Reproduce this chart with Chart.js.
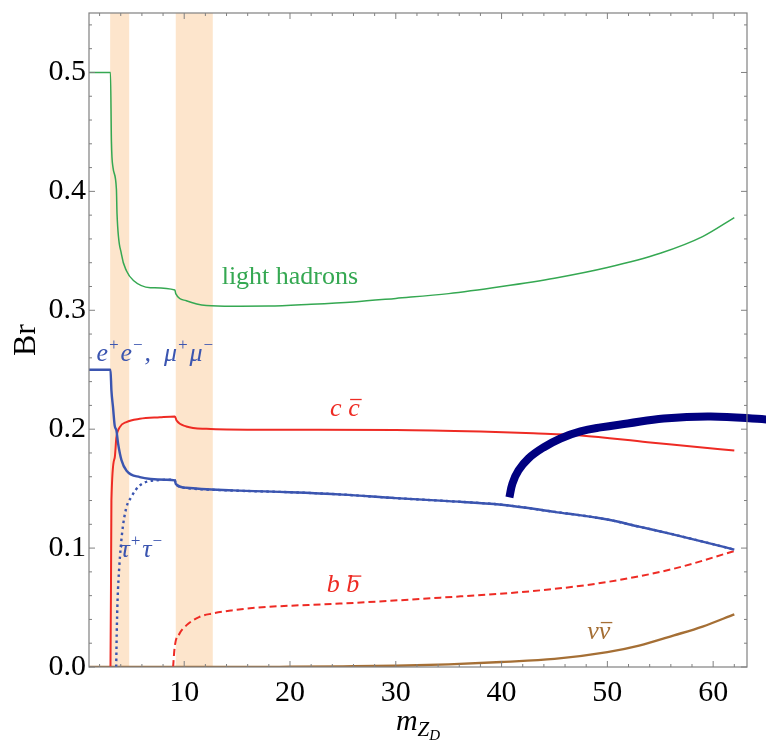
<!DOCTYPE html>
<html>
<head>
<meta charset="utf-8">
<title>Z_D branching ratios</title>
<script src="https://cdn.jsdelivr.net/npm/chart.js@4.4.1/dist/chart.umd.min.js"></script>
<style>
  html, body { margin: 0; padding: 0; background: #fff; }
  #wrap { width: 766px; height: 751px; }
</style>
</head>
<body>
<div id="wrap"><canvas id="brChart" width="766" height="751"></canvas></div>
<script>
// branching ratios of Z_D vs its mass (GeV)
const hadronX = [1, 3.03, 3.12, 3.27, 3.59, 3.65, 4.07, 4.55, 5.2, 6.8, 9.12, 9.2, 10.2, 12.1, 14.6, 18, 22, 26, 30, 35, 40, 45, 50, 55, 59, 62];
const hadronY = [0.5, 0.5, 0.442, 0.42, 0.402, 0.381, 0.347, 0.333, 0.325, 0.319, 0.317, 0.314, 0.308, 0.304, 0.3034, 0.3035, 0.305, 0.307, 0.31, 0.314, 0.32, 0.327, 0.336, 0.348, 0.362, 0.378];

const muX = [1, 3.03, 3.12, 3.27, 3.43, 3.59, 3.75, 4.07, 4.55, 5.8, 8.3, 9.12, 9.2, 10.2, 14.6, 20, 25, 30, 35, 40, 45, 50, 53, 56, 59, 62];
const muY = [0.25, 0.25, 0.2326, 0.2185, 0.203, 0.199, 0.188, 0.174, 0.165, 0.1597, 0.1575, 0.157, 0.154, 0.1507, 0.1485, 0.147, 0.145, 0.142, 0.1395, 0.1365, 0.1305, 0.124, 0.118, 0.112, 0.1055, 0.0987];

const tauX = [3.57, 3.62, 3.7, 3.86, 4.12, 4.5, 5.0, 5.8, 7.4, 9.0, 9.12, 9.2, 10.2, 14.6, 20, 25, 30, 35, 40, 45, 50, 53, 56, 59, 62];
const tauY = [0, 0.028, 0.056, 0.084, 0.112, 0.133, 0.143, 0.1527, 0.157, 0.1575, 0.157, 0.154, 0.1505, 0.1484, 0.147, 0.145, 0.142, 0.1395, 0.1365, 0.1305, 0.124, 0.118, 0.112, 0.1055, 0.0987];

const ccX = [3.03, 3.08, 3.12, 3.43, 3.59, 3.91, 4.54, 5.8, 7.7, 9.12, 9.28, 10.2, 12.1, 17.2, 30, 38, 43, 47.5, 53.8, 58, 62];
const ccY = [0, 0.07, 0.14, 0.176, 0.193, 0.2017, 0.206, 0.2087, 0.21, 0.2107, 0.2073, 0.2023, 0.2003, 0.1995, 0.1993, 0.198, 0.1965, 0.1947, 0.189, 0.1855, 0.182];

const bbX = [8.95, 9.1, 9.55, 10.2, 11.4, 12.6, 14.5, 17, 24.7, 34.2, 43.7, 50, 56.3, 62];
const bbY = [0, 0.0168, 0.028, 0.035, 0.042, 0.0449, 0.0476, 0.05, 0.0533, 0.0583, 0.0645, 0.0715, 0.0827, 0.0975];

const nuX = [1, 15, 20, 25, 30, 35, 40, 45, 50, 53, 56.3, 59, 62];
const nuY = [0, 0, 0.0002, 0.0005, 0.001, 0.0022, 0.0042, 0.0068, 0.0125, 0.018, 0.0266, 0.034, 0.0443];

// thick arc running off the right edge
const arcX = [40.74, 41.03, 41.6, 42.54, 43.96, 45.57, 47.46, 49.36, 51.92, 55.33, 59.78, 65.08];
const arcY = [0.1426, 0.1544, 0.1653, 0.1754, 0.1846, 0.1922, 0.1981, 0.2015, 0.2048, 0.209, 0.2107, 0.2082];

// resonance regions
const bandFrom = [3.0, 9.2];
const bandTo = [4.8, 12.7];

const xTicks = [10, 20, 30, 40, 50, 60];
const yTicks = [0, 0.1, 0.2, 0.3, 0.4, 0.5];

const GREEN = '#35a852';
const BLUE = '#3b55b0';
const RED = '#ee2b24';
const BROWN = '#a56f35';
const NAVY = '#000080';
const BAND = '#fde5cc';
const SERIF = '"Liberation Serif", "Times New Roman", serif';

const pts = (xs, ys) => xs.map((x, i) => ({ x: x, y: ys[i] }));

// curve labels: [text, 'sup' | 'bar']
const curveLabels = [
  { x: 13.54, y: 0.3224, color: GREEN, italic: false, parts: [['light hadrons']] },
  { x: 1.70, y: 0.2577, color: BLUE, italic: true, parts: [['e'], ['+', 'sup'], ['e'], ['\u2212', 'sup'], [',  \u03bc'], ['+', 'sup'], ['\u03bc'], ['\u2212', 'sup']] },
  { x: 3.97, y: 0.0924, color: BLUE, italic: true, parts: [['\u03c4'], ['+', 'sup'], ['\u03c4'], ['\u2212', 'sup']] },
  { x: 23.79, y: 0.2115, color: RED, italic: true, parts: [['c '], ['c', 'bar']] },
  { x: 23.48, y: 0.0630, color: RED, italic: true, parts: [['b '], ['b', 'bar']] },
  { x: 48.1, y: 0.0239, color: BROWN, italic: true, parts: [['\u03bd'], ['\u03bd', 'bar']] }
];

const bandPlugin = {
  id: 'bands',
  beforeDatasetsDraw(chart) {
    const { ctx, chartArea, scales } = chart;
    ctx.save();
    ctx.fillStyle = BAND;
    bandFrom.forEach((a, i) => {
      const x0 = scales.x.getPixelForValue(a);
      const x1 = scales.x.getPixelForValue(bandTo[i]);
      ctx.fillRect(x0, chartArea.top, x1 - x0, chartArea.bottom - chartArea.top);
    });
    ctx.restore();
  }
};

const framePlugin = {
  id: 'frame',
  afterDatasetsDraw(chart) {
    const { ctx, chartArea: a, scales } = chart;
    ctx.save();
    ctx.strokeStyle = '#808080';
    ctx.lineWidth = 1.2;
    ctx.strokeRect(a.left, a.top, a.right - a.left, a.bottom - a.top);
    ctx.lineWidth = 1;
    ctx.beginPath();
    // inward ticks on all four sides
    for (let v = 2; v <= 62; v += 2) {
      const px = scales.x.getPixelForValue(v);
      const len = v % 10 === 0 ? 6 : 3;
      ctx.moveTo(px, a.bottom); ctx.lineTo(px, a.bottom - len);
      ctx.moveTo(px, a.top); ctx.lineTo(px, a.top + len);
    }
    for (let k = 0; k <= 27; k++) {
      const v = k * 0.02;
      const py = scales.y.getPixelForValue(v);
      const len = k % 5 === 0 ? 6 : 3;
      ctx.moveTo(a.left, py); ctx.lineTo(a.left + len, py);
      ctx.moveTo(a.right, py); ctx.lineTo(a.right - len, py);
    }
    ctx.stroke();
    ctx.restore();
  },
  afterDraw(chart) {
    const { ctx, chartArea: a, scales } = chart;
    ctx.save();
    ctx.textBaseline = 'alphabetic';
    // curve labels
    curveLabels.forEach(l => {
      let px = scales.x.getPixelForValue(l.x);
      const py = scales.y.getPixelForValue(l.y);
      ctx.fillStyle = l.color;
      ctx.strokeStyle = l.color;
      l.parts.forEach(p => {
        const sup = p[1] === 'sup';
        const size = sup ? 17 : 26;
        ctx.font = (l.italic ? 'italic ' : '') + size + 'px ' + SERIF;
        const w = ctx.measureText(p[0]).width;
        ctx.fillText(p[0], px, sup ? py - 11 : py);
        if (p[1] === 'bar') {
          ctx.lineWidth = 1.3;
          ctx.beginPath();
          ctx.moveTo(px + 2, py - 16);
          ctx.lineTo(px + w + 2, py - 16);
          ctx.stroke();
        }
        px += w + (sup ? 1 : 0);
      });
    });
    // axis titles
    ctx.fillStyle = '#000';
    ctx.font = '32px ' + SERIF;
    ctx.save();
    ctx.translate(35, (a.top + a.bottom) / 2);
    ctx.rotate(-Math.PI / 2);
    ctx.textAlign = 'center';
    ctx.fillText('Br', 0, 0);
    ctx.restore();
    const cx = (a.left + a.right) / 2;
    ctx.font = 'italic 30px ' + SERIF;
    const wm = ctx.measureText('m').width;
    ctx.font = 'italic 21px ' + SERIF;
    const wz = ctx.measureText('Z').width;
    ctx.font = 'italic 15px ' + SERIF;
    const wd = ctx.measureText('D').width;
    let tx = cx - (wm + wz + wd) / 2;
    const ty = 730;
    ctx.font = 'italic 30px ' + SERIF;
    ctx.fillText('m', tx, ty);
    tx += wm;
    ctx.font = 'italic 21px ' + SERIF;
    ctx.fillText('Z', tx, ty + 6);
    tx += wz;
    ctx.font = 'italic 15px ' + SERIF;
    ctx.fillText('D', tx, ty + 10);
    ctx.restore();
  }
};

const line = (data, color, width, extra) => Object.assign({
  data: data,
  borderColor: color,
  borderWidth: width,
  pointRadius: 0,
  fill: false,
  cubicInterpolationMode: 'monotone'
}, extra || {});

new Chart(document.getElementById('brChart'), {
  type: 'line',
  data: {
    datasets: [
      line(pts(arcX, arcY), NAVY, 8, { clip: false, borderCapStyle: 'butt', cubicInterpolationMode: 'default', tension: 0.4 }),
      line(pts(muX, muY), BLUE, 2.4),
      line(pts(tauX, tauY), BLUE, 2.4, { borderDash: [2.5, 3.5] }),
      line(pts(ccX, ccY), RED, 2),
      line(pts(bbX, bbY), RED, 2, { borderDash: [7, 4] }),
      line(pts(hadronX, hadronY), GREEN, 1.5),
      line(pts(nuX, nuY), BROWN, 2.4)
    ]
  },
  options: {
    responsive: false,
    animation: false,
    devicePixelRatio: 1,
    layout: { padding: { top: 13, right: 19, left: 0, bottom: 0 } },
    plugins: { legend: { display: false }, tooltip: { enabled: false } },
    scales: {
      x: {
        type: 'linear',
        min: 1,
        max: 63.2,
        grid: { display: false, drawTicks: false },
        border: { display: false },
        afterBuildTicks: s => { s.ticks = xTicks.map(v => ({ value: v })); },
        afterFit: s => { s.height = 84; s.paddingLeft = 0; s.paddingRight = 0; },
        ticks: { color: '#000', font: { family: SERIF, size: 30 }, padding: 8, maxRotation: 0 }
      },
      y: {
        min: 0,
        max: 0.55,
        grid: { display: false, drawTicks: false },
        border: { display: false },
        afterBuildTicks: s => { s.ticks = yTicks.map(v => ({ value: v })); },
        afterFit: s => { s.width = 89; s.paddingTop = 0; s.paddingBottom = 0; },
        ticks: { color: '#000', font: { family: SERIF, size: 30 }, padding: 3, callback: v => v.toFixed(1) }
      }
    }
  },
  plugins: [bandPlugin, framePlugin]
});
</script>
</body>
</html>
